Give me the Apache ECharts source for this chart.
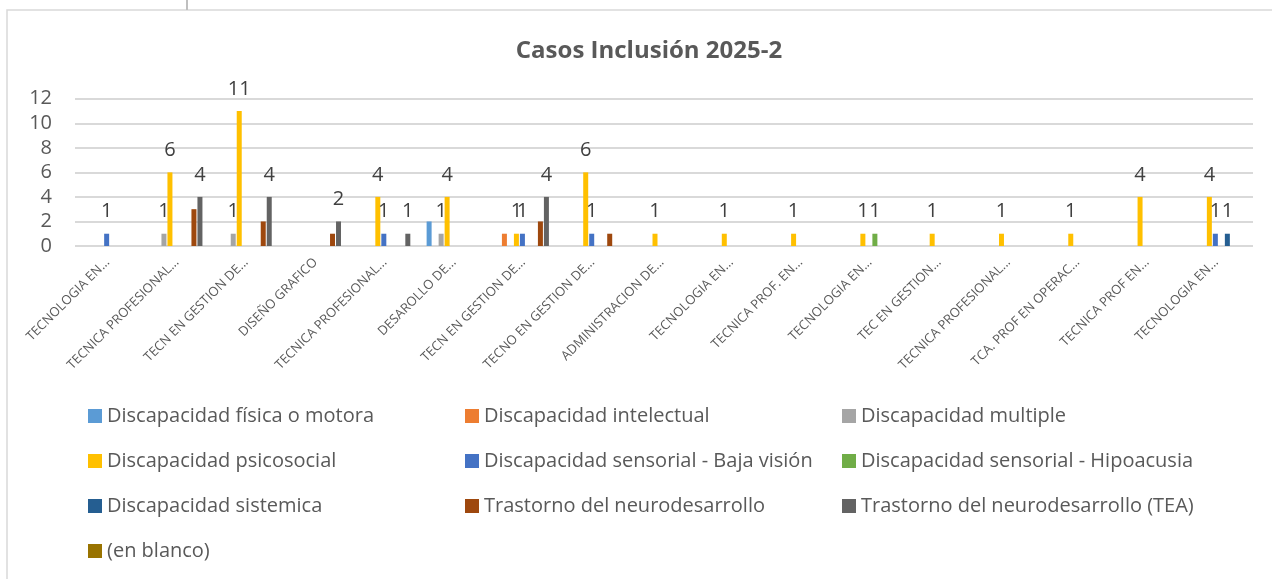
<!DOCTYPE html>
<html>
<head>
<meta charset="utf-8">
<title>Casos Inclusión 2025-2</title>
<script src="https://cdn.jsdelivr.net/npm/echarts@6/dist/echarts.min.js"></script>
<style>
  html, body { margin: 0; padding: 0; background: #ffffff; }
  #chart { width: 1272px; height: 579px; }
</style>
</head>
<body>
<div id="chart"></div>
<script>
// Programas académicos (nombres truncados como en la tabla dinámica)
const categories = [
  'TECNOLOGIA EN...', 'TECNICA PROFESIONAL...', 'TECN EN GESTION DE...', 'DISEÑO GRAFICO',
  'TECNICA PROFESIONAL...', 'DESAROLLO DE...', 'TECN EN GESTION DE...', 'TECNO EN GESTION DE...',
  'ADMINISTRACION DE...', 'TECNOLOGIA EN...', 'TECNICA PROF. EN...', 'TECNOLOGIA EN...',
  'TEC EN GESTION...', 'TECNICA PROFESIONAL...', 'TCA. PROF EN OPERAC...', 'TECNICA PROF EN...',
  'TECNOLOGIA EN...'
];

// Casos por tipo de discapacidad (null = sin casos)
const fisicaMotora     = [null, null, null, null, null, 2, null, null, null, null, null, null, null, null, null, null, null];
const intelectual      = [null, null, null, null, null, null, 1, null, null, null, null, null, null, null, null, null, null];
const multiple         = [null, 1, 1, null, null, 1, null, null, null, null, null, null, null, null, null, null, null];
const psicosocial      = [null, 6, 11, null, 4, 4, 1, 6, 1, 1, 1, 1, 1, 1, 1, 4, 4];
const bajaVision       = [1, null, null, null, 1, null, 1, 1, null, null, null, null, null, null, null, null, 1];
const hipoacusia       = [null, null, null, null, null, null, null, null, null, null, null, 1, null, null, null, null, null];
const sistemica        = [null, null, null, null, null, null, null, null, null, null, null, null, null, null, null, null, 1];
const neurodesarrollo  = [null, 3, 2, 1, null, null, 2, 1, null, null, null, null, null, null, null, null, null];
const neurodesarrolloTEA = [null, 4, 4, 2, 1, null, 4, null, null, null, null, null, null, null, null, null, null];
const enBlanco         = [null, null, null, null, null, null, null, null, null, null, null, null, null, null, null, null, null];

const yTicks = [0, 2, 4, 6, 8, 10, 12];

const seriesDefs = [
  { name: 'Discapacidad física o motora', data: fisicaMotora, color: '#5B9BD5', label: false },
  { name: 'Discapacidad intelectual', data: intelectual, color: '#ED7D31', label: false },
  { name: 'Discapacidad multiple', data: multiple, color: '#A5A5A5', label: true },
  { name: 'Discapacidad psicosocial', data: psicosocial, color: '#FFC000', label: true },
  { name: 'Discapacidad sensorial - Baja visión', data: bajaVision, color: '#4472C4', label: true },
  { name: 'Discapacidad sensorial - Hipoacusia', data: hipoacusia, color: '#70AD47', label: true },
  { name: 'Discapacidad sistemica', data: sistemica, color: '#255E91', label: true },
  { name: 'Trastorno del neurodesarrollo', data: neurodesarrollo, color: '#9E480E', label: false },
  { name: 'Trastorno del neurodesarrollo (TEA)', data: neurodesarrolloTEA, color: '#636363', label: true },
  { name: '(en blanco)', data: enBlanco, color: '#997300', label: false }
];

const FONT = '"Open Sans", "Noto Sans", sans-serif';
const TEXT_COLOR = '#595959';

const legendColumns = [
  { left: 88,  names: [0, 3, 6, 9] },
  { left: 465, names: [1, 4, 7] },
  { left: 842, names: [2, 5, 8] }
];

const chart = echarts.init(document.getElementById('chart'), null, { renderer: 'canvas' });

chart.setOption({
  backgroundColor: '#ffffff',
  animation: false,
  color: seriesDefs.map(s => s.color),
  title: {
    text: 'Casos Inclusión 2025-2',
    left: 644,
    textAlign: 'center',
    top: 34,
    textStyle: { fontFamily: FONT, fontSize: 24, fontWeight: 'bold', color: TEXT_COLOR }
  },
  legend: legendColumns.map(col => ({
    orient: 'vertical',
    left: col.left,
    top: 405,
    padding: 0,
    itemWidth: 14,
    itemHeight: 14,
    itemGap: 23,
    icon: 'rect',
    selectedMode: false,
    data: col.names.map(i => seriesDefs[i].name),
    textStyle: { fontFamily: FONT, fontSize: 20, lineHeight: 22, color: TEXT_COLOR }
  })),
  grid: { left: 75, right: 19, top: 98.7, bottom: 333, containLabel: false },
  xAxis: {
    type: 'category',
    data: categories,
    axisLine: { show: false },
    axisTick: { show: false },
    axisLabel: {
      interval: 0,
      rotate: 45,
      margin: 12,
      padding: [0, 3, 0, 0],
      fontFamily: FONT,
      fontSize: 13,
      color: TEXT_COLOR
    }
  },
  yAxis: {
    type: 'value',
    min: yTicks[0],
    max: yTicks[yTicks.length - 1],
    interval: yTicks[1] - yTicks[0],
    axisLine: { show: false },
    axisTick: { show: false },
    splitLine: { lineStyle: { color: '#D9D9D9', width: 2 } },
    axisLabel: { margin: 23, fontFamily: FONT, fontSize: 20, color: TEXT_COLOR }
  },
  series: seriesDefs.map(s => ({
    name: s.name,
    type: 'bar',
    data: s.data,
    barWidth: 5,
    barGap: '20%',
    itemStyle: { color: s.color },
    label: {
      show: s.label,
      position: 'top',
      distance: 12,
      fontFamily: FONT,
      fontSize: 20,
      color: '#404040'
    }
  })),
  graphic: [
    {
      type: 'rect',
      silent: true,
      shape: { x: 7, y: 10, width: 1300, height: 620 },
      style: { fill: null, stroke: '#D9D9D9', lineWidth: 1.5 }
    },
    {
      type: 'line',
      silent: true,
      shape: { x1: 187, y1: 0, x2: 187, y2: 10 },
      style: { stroke: '#BFBFBF', lineWidth: 2 }
    }
  ]
});
</script>
</body>
</html>
